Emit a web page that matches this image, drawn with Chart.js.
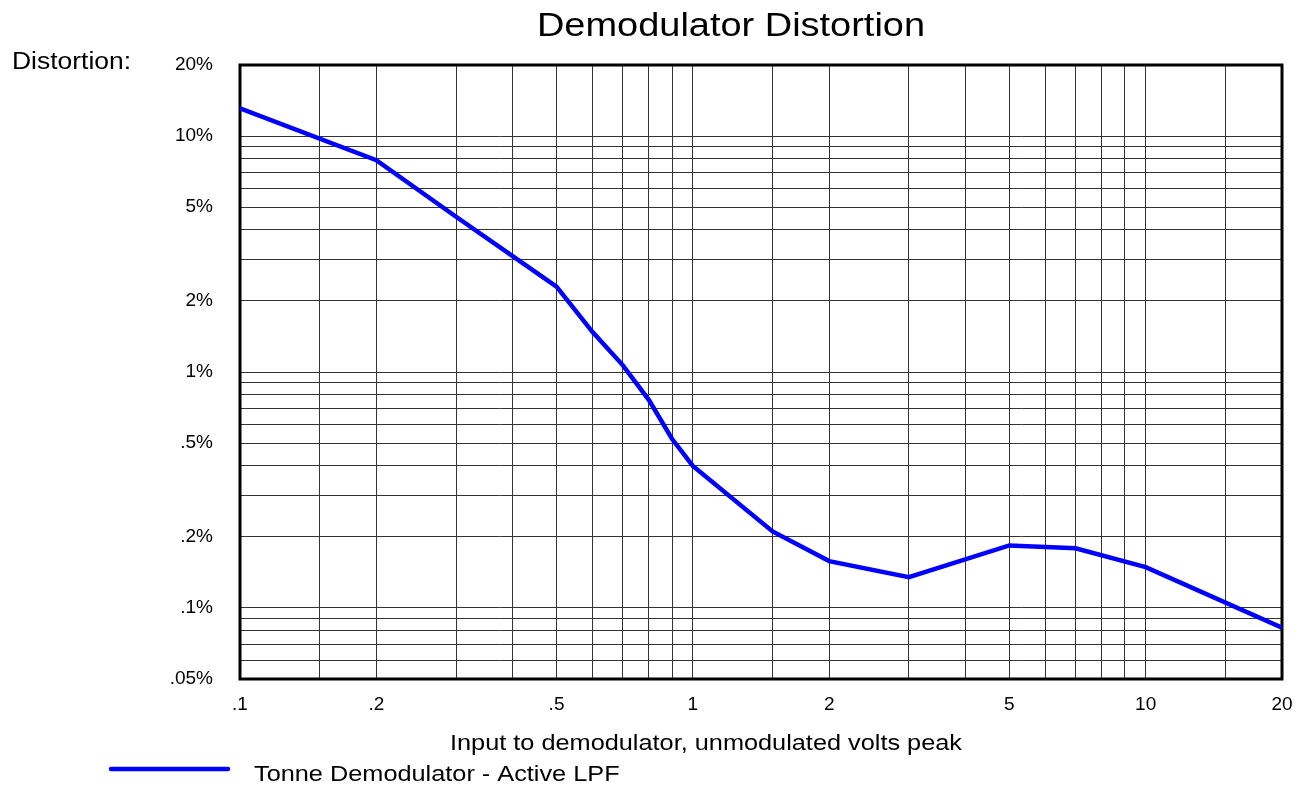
<!DOCTYPE html>
<html>
<head>
<meta charset="utf-8">
<script src="https://cdn.jsdelivr.net/npm/chart.js@4/dist/chart.umd.min.js"></script>
<style>
  html, body { margin: 0; padding: 0; background: #fff; }
  #wrap { width: 1302px; height: 786px; }
</style>
</head>
<body>
<div id="wrap"><canvas id="distChart" width="1302" height="786"></canvas></div>
<script>
// measured points: input volts peak vs. distortion %
const inputVolts = [0.1, 0.2, 0.3, 0.4, 0.5, 0.6, 0.7, 0.8, 0.9, 1, 1.5, 2, 3, 5, 7, 10, 20];
const distortion = [13.1, 7.9, 4.55, 3.1, 2.3, 1.48, 1.07, 0.76, 0.52, 0.40, 0.211, 0.158, 0.135, 0.184, 0.179, 0.149, 0.0825];

// grid lines and labelled ticks
const xGrid = [0.1, 0.15, 0.2, 0.3, 0.4, 0.5, 0.6, 0.7, 0.8, 0.9, 1, 1.5, 2, 3, 4, 5, 6, 7, 8, 9, 10, 15, 20];
const xTickValues = [0.1, 0.2, 0.5, 1, 2, 5, 10, 20];
const xTickLabels = [".1", ".2", ".5", "1", "2", "5", "10", "20"];
const yGrid = [0.05, 0.06, 0.07, 0.08, 0.09, 0.1, 0.2, 0.3, 0.4, 0.5, 0.6, 0.7, 0.8, 0.9, 1, 2, 3, 4, 5, 6, 7, 8, 9, 10, 20];
const yTickValues = [20, 10, 5, 2, 1, 0.5, 0.2, 0.1, 0.05];
const yTickLabels = ["20%", "10%", "5%", "2%", "1%", ".5%", ".2%", ".1%", ".05%"];

const seriesLabel = "Tonne Demodulator - Active LPF";
const FONT = "'Liberation Sans', Arial, sans-serif";

function labelFor(v, values, labels) {
  const i = values.findIndex(t => Math.abs(t - v) < v * 1e-6);
  return i < 0 ? "" : labels[i];
}

function stretchedText(ctx, text, x, y, size, align) {
  ctx.save();
  ctx.font = size + "px " + FONT;
  ctx.fillStyle = "#000";
  ctx.textAlign = align;
  ctx.textBaseline = "alphabetic";
  ctx.translate(x, y);
  ctx.scale(1.15, 1);
  ctx.fillText(text, 0, 0);
  ctx.restore();
}

const decor = {
  id: "decor",
  beforeDatasetsDraw(chart) {
    const { ctx, chartArea: a } = chart;
    ctx.save();
    ctx.strokeStyle = "#000";
    ctx.lineWidth = 3;
    ctx.strokeRect(a.left, a.top, a.right - a.left, a.bottom - a.top);
    ctx.restore();
  },
  afterDraw(chart) {
    const ctx = chart.ctx;
    stretchedText(ctx, "Demodulator Distortion", 731, 36, 33, "center");
    stretchedText(ctx, "Distortion:", 12, 69, 23, "left");
    stretchedText(ctx, "Input to demodulator, unmodulated volts peak", 706, 750, 22, "center");
    // legend
    const ds = chart.data.datasets[0];
    ctx.save();
    ctx.strokeStyle = ds.borderColor;
    ctx.lineWidth = ds.borderWidth;
    ctx.lineCap = "round";
    ctx.beginPath();
    ctx.moveTo(111, 769);
    ctx.lineTo(228, 769);
    ctx.stroke();
    ctx.restore();
    stretchedText(ctx, ds.label, 254, 781, 22, "left");
  }
};

new Chart(document.getElementById("distChart"), {
  type: "line",
  data: {
    datasets: [{
      label: seriesLabel,
      data: inputVolts.map((v, i) => ({ x: v, y: distortion[i] })),
      borderColor: "#0000ff",
      borderWidth: 4.5,
      pointRadius: 0,
      tension: 0,
      fill: false
    }]
  },
  plugins: [decor],
  options: {
    responsive: false,
    animation: false,
    layout: { padding: { top: 65, right: 20, left: 0, bottom: 0 } },
    plugins: { legend: { display: false }, tooltip: { enabled: false }, title: { display: false } },
    scales: {
      x: {
        type: "logarithmic",
        min: 0.1,
        max: 20,
        afterBuildTicks: s => { s.ticks = xGrid.map(v => ({ value: v })); },
        afterFit: s => { s.height = 107; s.paddingLeft = 0; s.paddingRight = 0; },
        grid: { color: "#333", lineWidth: 1, drawTicks: false },
        border: { display: false },
        ticks: {
          autoSkip: false,
          maxRotation: 0,
          padding: 14,
          color: "#000",
          font: { family: FONT, size: 19 },
          callback: v => labelFor(v, xTickValues, xTickLabels)
        }
      },
      y: {
        type: "logarithmic",
        min: 0.05,
        max: 20,
        afterBuildTicks: s => { s.ticks = yGrid.map(v => ({ value: v })); },
        afterFit: s => { s.width = 240; s.paddingTop = 0; s.paddingBottom = 0; },
        grid: { color: "#333", lineWidth: 1, drawTicks: false },
        border: { display: false },
        ticks: {
          autoSkip: false,
          padding: 27,
          color: "#000",
          font: { family: FONT, size: 19 },
          callback: v => labelFor(v, yTickValues, yTickLabels)
        }
      }
    }
  }
});
</script>
</body>
</html>
